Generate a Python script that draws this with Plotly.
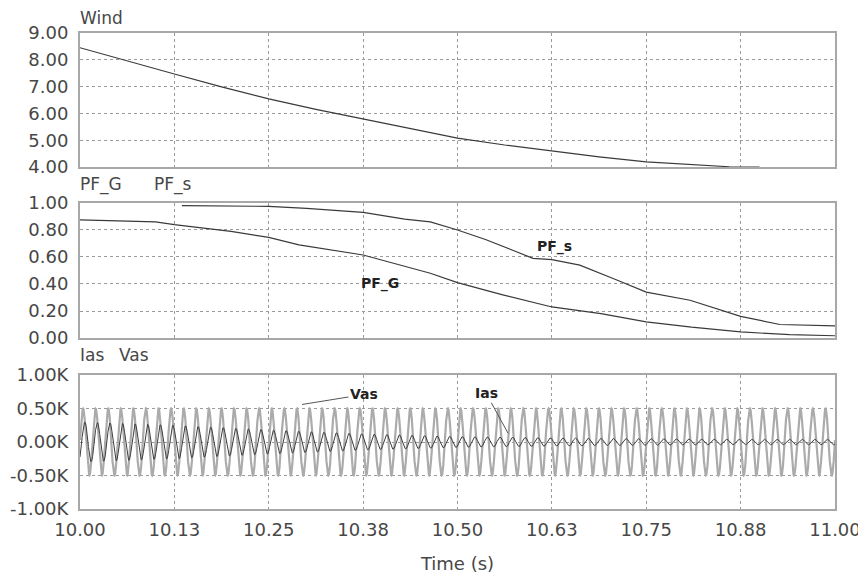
import numpy as np
import plotly.graph_objects as go

# ---------------- data ----------------
wind_t = [10.0, 10.0625, 10.125, 10.1875, 10.25, 10.3125, 10.375, 10.4375, 10.5,
          10.5625, 10.625, 10.6875, 10.75, 10.8125, 10.86, 10.9]
wind_v = [8.45, 7.95, 7.47, 6.99, 6.54, 6.15, 5.79, 5.42, 5.08,
          4.82, 4.60, 4.38, 4.19, 4.08, 4.01, 4.00]

pfg_t = [10.0, 10.05, 10.1, 10.125, 10.2, 10.25, 10.29, 10.375, 10.43, 10.464, 10.5,
         10.56, 10.625, 10.69, 10.75, 10.81, 10.875, 10.94, 11.0]
pfg_v = [0.875, 0.865, 0.86, 0.84, 0.79, 0.745, 0.69, 0.615, 0.53, 0.48, 0.41,
         0.32, 0.23, 0.18, 0.12, 0.08, 0.045, 0.025, 0.017]

pfs_t = [10.135, 10.25, 10.3, 10.375, 10.43, 10.464, 10.5, 10.537, 10.573, 10.6, 10.625,
         10.662, 10.711, 10.75, 10.808, 10.875, 10.927, 11.0]
pfs_v = [0.98, 0.975, 0.96, 0.93, 0.88, 0.86, 0.80, 0.73, 0.65, 0.59, 0.58,
         0.54, 0.43, 0.34, 0.28, 0.16, 0.10, 0.09]

# AC quantities: 60 Hz waveforms, peak envelope (volts / amps)
ac_freq = 60.0
env_t = [10.0, 10.125, 10.25, 10.375, 10.5, 10.625, 10.75, 10.875, 11.0]
vas_env = [500, 500, 500, 500, 500, 500, 500, 500, 500]
ias_env = [300, 250, 180, 120, 80, 60, 50, 40, 40]

x_tickvals = [10.0, 10.125, 10.25, 10.375, 10.5, 10.625, 10.75, 10.875, 11.0]
x_ticktext = ["10.00", "10.13", "10.25", "10.38", "10.50", "10.63", "10.75", "10.88", "11.00"]
wind_ticks = [4, 5, 6, 7, 8, 9]
pf_ticks = [0.0, 0.2, 0.4, 0.6, 0.8, 1.0]
ac_tickvals = [-1000, -500, 0, 500, 1000]
ac_ticktext = ["-1.00K", "-0.50K", "0.00K", "0.50K", "1.00K"]

# ---------------- waveform construction ----------------
t = np.linspace(10.0, 11.0, 6001)
vas = np.interp(t, env_t, vas_env) * np.cos(2 * np.pi * ac_freq * (t - 10.004))
ias = np.interp(t, env_t, ias_env) * np.cos(2 * np.pi * ac_freq * (t - 10.004) - 0.9)

FONT = "DejaVu Sans, Liberation Sans, Arial, sans-serif"
TXT = "#474747"
GRID = "#9a9a9a"
FRAME = "#a8a8a8"

fig = go.Figure()
fig.add_trace(go.Scatter(x=wind_t, y=wind_v, mode="lines", line=dict(color="#3a3a3a", width=1.2),
                         xaxis="x", yaxis="y", showlegend=False))
fig.add_trace(go.Scatter(x=pfg_t, y=pfg_v, mode="lines", line=dict(color="#3a3a3a", width=1.2),
                         xaxis="x2", yaxis="y2", showlegend=False))
fig.add_trace(go.Scatter(x=pfs_t, y=pfs_v, mode="lines", line=dict(color="#3a3a3a", width=1.2),
                         xaxis="x2", yaxis="y2", showlegend=False))
fig.add_trace(go.Scatter(x=t, y=vas, mode="lines", line=dict(color="#ababab", width=2.2),
                         xaxis="x3", yaxis="y3", showlegend=False))
fig.add_trace(go.Scatter(x=t, y=ias, mode="lines", line=dict(color="#3c3c3c", width=1),
                         xaxis="x3", yaxis="y3", showlegend=False))

xcommon = dict(range=[10.0, 11.0], tickvals=x_tickvals, ticktext=x_ticktext,
               showgrid=True, gridcolor=GRID, griddash="dot", gridwidth=1,
               showline=True, linecolor=FRAME, linewidth=2, mirror=True,
               zeroline=False, ticks="outside", ticklen=3, tickcolor="rgba(0,0,0,0)",
               automargin=False,
               tickfont=dict(family=FONT, size=18, color=TXT))
ycommon = dict(showgrid=True, gridcolor=GRID, griddash="dot", gridwidth=1,
               showline=True, linecolor=FRAME, linewidth=2, mirror=True,
               zeroline=False, ticks="outside", ticklen=6, tickcolor="rgba(0,0,0,0)",
               automargin=False,
               tickfont=dict(family=FONT, size=18, color=TXT))

# page body has an 8px margin, so the figure is sized/shifted to compensate
fig.update_layout(
    width=858, height=571,
    margin=dict(l=72, r=31, t=25, b=70),
    paper_bgcolor="white", plot_bgcolor="white",
    font=dict(family=FONT, color=TXT),
    xaxis=dict(**xcommon, domain=[0, 1], anchor="y", showticklabels=False),
    xaxis2=dict(**xcommon, domain=[0, 1], anchor="y2", showticklabels=False),
    xaxis3=dict(**xcommon, domain=[0, 1], anchor="y3", showticklabels=True,
                title=dict(text="Time (s)", font=dict(family=FONT, size=18, color=TXT), standoff=19)),
    yaxis=dict(**ycommon, domain=[0.7185, 1.0], range=[4, 9], tickvals=wind_ticks, tickformat=".2f"),
    yaxis2=dict(**ycommon, domain=[0.3592, 0.6429], range=[0, 1], tickvals=pf_ticks, tickformat=".2f"),
    yaxis3=dict(**ycommon, domain=[0.0, 0.2815], range=[-1000, 1000],
                tickvals=ac_tickvals, ticktext=ac_ticktext),
)

title_font = dict(family=FONT, size=17, color=TXT)
for txt, px, py in [("Wind", -0.003, 1.0315), ("PF_G", -0.003, 0.6807), ("PF_s", 0.0954, 0.6807),
                    ("Ias", -0.003, 0.3235), ("Vas", 0.049, 0.3235)]:
    fig.add_annotation(text=txt, x=px, y=py, xref="paper", yref="paper",
                       xanchor="left", yanchor="middle", showarrow=False, font=title_font)

lab_font = dict(family=FONT, size=14, color="#222222")
fig.add_annotation(text="<b>PF_G</b>", x=10.397, y=0.40, xref="x2", yref="y2",
                   showarrow=False, font=lab_font)
fig.add_annotation(text="<b>PF_s</b>", x=10.629, y=0.68, xref="x2", yref="y2",
                   showarrow=False, font=lab_font)
fig.add_annotation(text="<b>Vas</b>", x=10.294, y=560, xref="x3", yref="y3",
                   ax=62, ay=-10, showarrow=True, arrowhead=0, arrowwidth=1,
                   arrowcolor="#555555", font=lab_font)
fig.add_annotation(text="<b>Ias</b>", x=10.567, y=130, xref="x3", yref="y3",
                   ax=-22, ay=-40, showarrow=True, arrowhead=0, arrowwidth=1,
                   arrowcolor="#555555", font=lab_font)

fig.write_html("out.html")
